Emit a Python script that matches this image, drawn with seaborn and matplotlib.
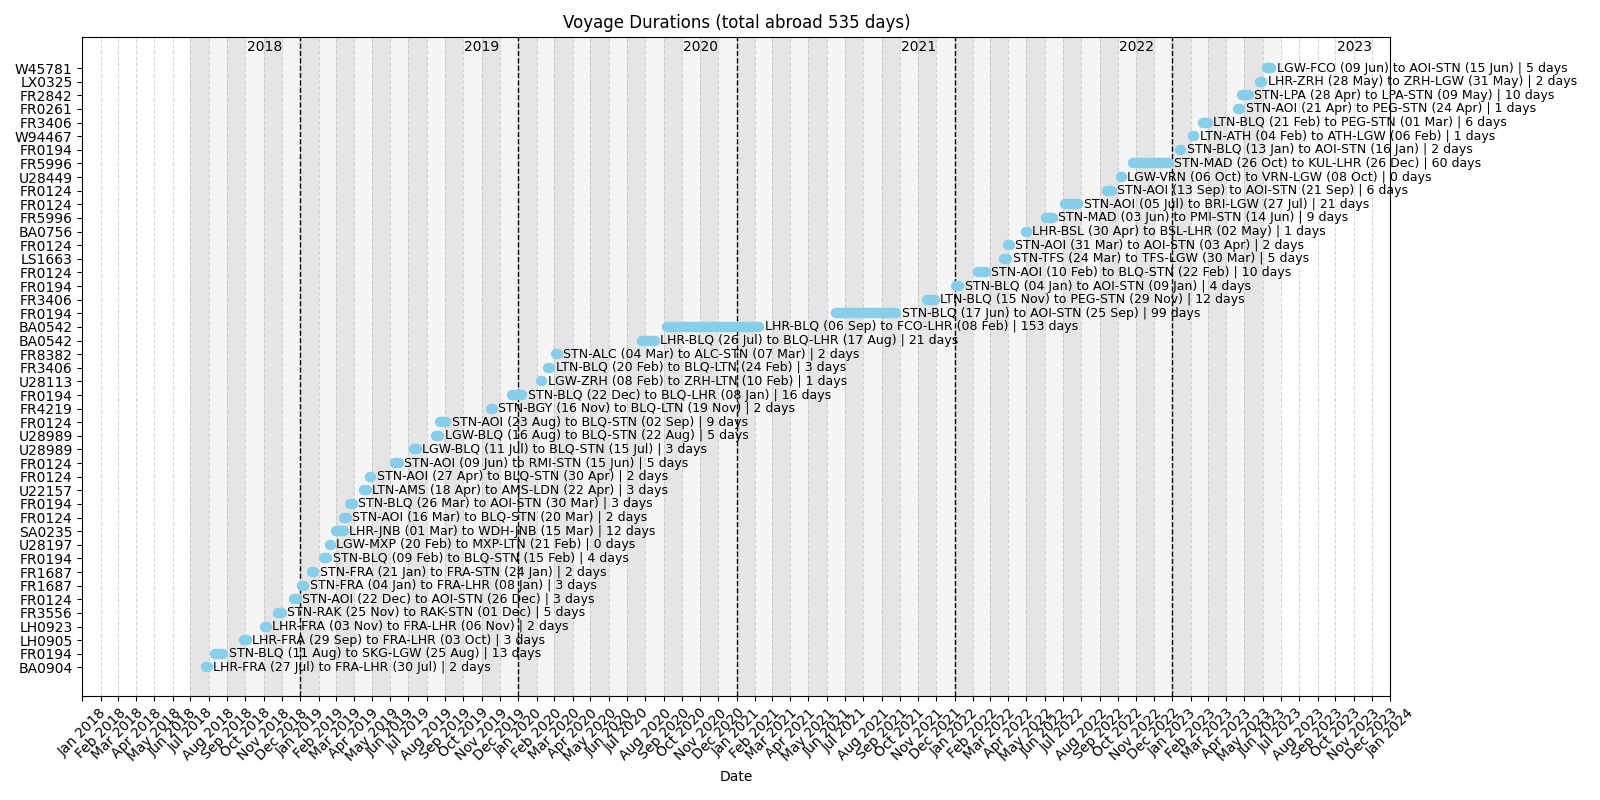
import matplotlib
matplotlib.use("Agg")
import matplotlib.pyplot as plt
import matplotlib.dates as mdates
import matplotlib.transforms as mtransforms
import pandas as pd
import seaborn as sns

# trips, oldest first (bottom row of the chart)
flights = ["BA0904", "FR0194", "LH0905", "LH0923", "FR3556", "FR0124", "FR1687", "FR1687",
           "FR0194", "U28197", "SA0235", "FR0124", "FR0194", "U22157", "FR0124", "FR0124",
           "U28989", "U28989", "FR0124", "FR4219", "FR0194", "U28113", "FR3406", "FR8382",
           "BA0542", "BA0542", "FR0194", "FR3406", "FR0194", "FR0124", "LS1663", "FR0124",
           "BA0756", "FR5996", "FR0124", "FR0124", "U28449", "FR5996", "FR0194", "W94467",
           "FR3406", "FR0261", "FR2842", "LX0325", "W45781"]
out_routes = ["LHR-FRA", "STN-BLQ", "LHR-FRA", "LHR-FRA", "STN-RAK", "STN-AOI", "STN-FRA", "STN-FRA",
              "STN-BLQ", "LGW-MXP", "LHR-JNB", "STN-AOI", "STN-BLQ", "LTN-AMS", "STN-AOI", "STN-AOI",
              "LGW-BLQ", "LGW-BLQ", "STN-AOI", "STN-BGY", "STN-BLQ", "LGW-ZRH", "LTN-BLQ", "STN-ALC",
              "LHR-BLQ", "LHR-BLQ", "STN-BLQ", "LTN-BLQ", "STN-BLQ", "STN-AOI", "STN-TFS", "STN-AOI",
              "LHR-BSL", "STN-MAD", "STN-AOI", "STN-AOI", "LGW-VRN", "STN-MAD", "STN-BLQ", "LTN-ATH",
              "LTN-BLQ", "STN-AOI", "STN-LPA", "LHR-ZRH", "LGW-FCO"]
back_routes = ["FRA-LHR", "SKG-LGW", "FRA-LHR", "FRA-LHR", "RAK-STN", "AOI-STN", "FRA-LHR", "FRA-STN",
               "BLQ-STN", "MXP-LTN", "WDH-JNB", "BLQ-STN", "AOI-STN", "AMS-LDN", "BLQ-STN", "RMI-STN",
               "BLQ-STN", "BLQ-STN", "BLQ-STN", "BLQ-LTN", "BLQ-LHR", "ZRH-LTN", "BLQ-LTN", "ALC-STN",
               "BLQ-LHR", "FCO-LHR", "AOI-STN", "PEG-STN", "AOI-STN", "BLQ-STN", "TFS-LGW", "AOI-STN",
               "BSL-LHR", "PMI-STN", "BRI-LGW", "AOI-STN", "VRN-LGW", "KUL-LHR", "AOI-STN", "ATH-LGW",
               "PEG-STN", "PEG-STN", "LPA-STN", "ZRH-LGW", "AOI-STN"]
start_dates = ["2018-07-27", "2018-08-11", "2018-09-29", "2018-11-03", "2018-11-25", "2018-12-22",
               "2019-01-04", "2019-01-21", "2019-02-09", "2019-02-20", "2019-03-01", "2019-03-16",
               "2019-03-26", "2019-04-18", "2019-04-27", "2019-06-09", "2019-07-11", "2019-08-16",
               "2019-08-23", "2019-11-16", "2019-12-22", "2020-02-08", "2020-02-20", "2020-03-04",
               "2020-07-26", "2020-09-06", "2021-06-17", "2021-11-15", "2022-01-04", "2022-02-10",
               "2022-03-24", "2022-03-31", "2022-04-30", "2022-06-03", "2022-07-05", "2022-09-13",
               "2022-10-06", "2022-10-26", "2023-01-13", "2023-02-04", "2023-02-21", "2023-04-21",
               "2023-04-28", "2023-05-28", "2023-06-09"]
end_dates = ["2018-07-30", "2018-08-25", "2018-10-03", "2018-11-06", "2018-12-01", "2018-12-26",
             "2019-01-08", "2019-01-24", "2019-02-15", "2019-02-21", "2019-03-15", "2019-03-20",
             "2019-03-30", "2019-04-22", "2019-04-30", "2019-06-15", "2019-07-15", "2019-08-22",
             "2019-09-02", "2019-11-19", "2020-01-08", "2020-02-10", "2020-02-24", "2020-03-07",
             "2020-08-17", "2021-02-08", "2021-09-25", "2021-11-29", "2022-01-09", "2022-02-22",
             "2022-03-30", "2022-04-03", "2022-05-02", "2022-06-14", "2022-07-27", "2022-09-21",
             "2022-10-08", "2022-12-26", "2023-01-16", "2023-02-06", "2023-03-01", "2023-04-24",
             "2023-05-09", "2023-05-31", "2023-06-15"]
days_abroad = [2, 13, 3, 2, 5, 3, 3, 2, 4, 0, 12, 2, 3, 3, 2, 5, 3, 5, 9, 2, 16, 1, 3, 2,
               21, 153, 99, 12, 4, 10, 5, 2, 1, 9, 21, 6, 0, 60, 2, 1, 6, 1, 10, 2, 5]

starts = pd.to_datetime(start_dates)
ends = pd.to_datetime(end_dates)
n = len(flights)

# long form: two points (start, end) per trip
segments = pd.DataFrame({
    "trip": list(range(n)) * 2,
    "date": list(starts) + list(ends),
    "row": list(range(n)) * 2,
})

fig, ax = plt.subplots(figsize=(16, 8), dpi=100)
fig.subplots_adjust(left=0.0515, right=0.869, top=0.954, bottom=0.13)

# alternating month shading over the travelled period
months = pd.date_range(starts.min().to_period("M").to_timestamp(),
                       ends.max().to_period("M").to_timestamp(), freq="MS")
for i, m in enumerate(months):
    ax.axvspan(m, m + pd.offsets.MonthBegin(1), color="#e5e5e5" if i % 2 == 0 else "#f5f5f5",
               lw=0, zorder=0)

sns.lineplot(data=segments, x="date", y="row", units="trip", estimator=None, sort=False,
             color="skyblue", linewidth=7.5, solid_capstyle="round", legend=False, ax=ax, zorder=3)

for i in range(n):
    label = (f"{out_routes[i]} ({starts[i]:%d %b}) to {back_routes[i]} ({ends[i]:%d %b})"
             f" | {days_abroad[i]} days")
    ax.annotate(label, xy=(ends[i], i), xytext=(4, 0), textcoords="offset points",
                va="center", ha="left", fontsize=9, zorder=4)

# year separators and year labels
trans = mtransforms.blended_transform_factory(ax.transData, ax.transAxes)
for year in range(starts.min().year, ends.max().year + 1):
    if year > starts.min().year:
        ax.axvline(pd.Timestamp(year=year, month=1, day=1), color="black", ls="--", lw=1, zorder=2)
    ax.text(pd.Timestamp(year=year, month=12, day=1), 0.995, str(year), transform=trans,
            ha="right", va="top", fontsize=10)

ax.set_xlim(pd.Timestamp("2018-01-01"), pd.Timestamp("2024-01-01"))
ax.xaxis.set_major_locator(mdates.MonthLocator())
ax.xaxis.set_major_formatter(mdates.DateFormatter("%b %Y"))
ax.grid(axis="x", linestyle="--", alpha=0.5, zorder=1)
ax.set_axisbelow(True)
plt.setp(ax.get_xticklabels(), rotation=45)

ax.set_yticks(range(n))
ax.set_yticklabels(flights)
ax.set_ylim(-2.1, n + 1.3)

ax.set_xlabel("Date")
ax.set_ylabel("")
ax.set_title(f"Voyage Durations (total abroad {sum(days_abroad)} days)")

fig.savefig("out.png")
plt.close()
